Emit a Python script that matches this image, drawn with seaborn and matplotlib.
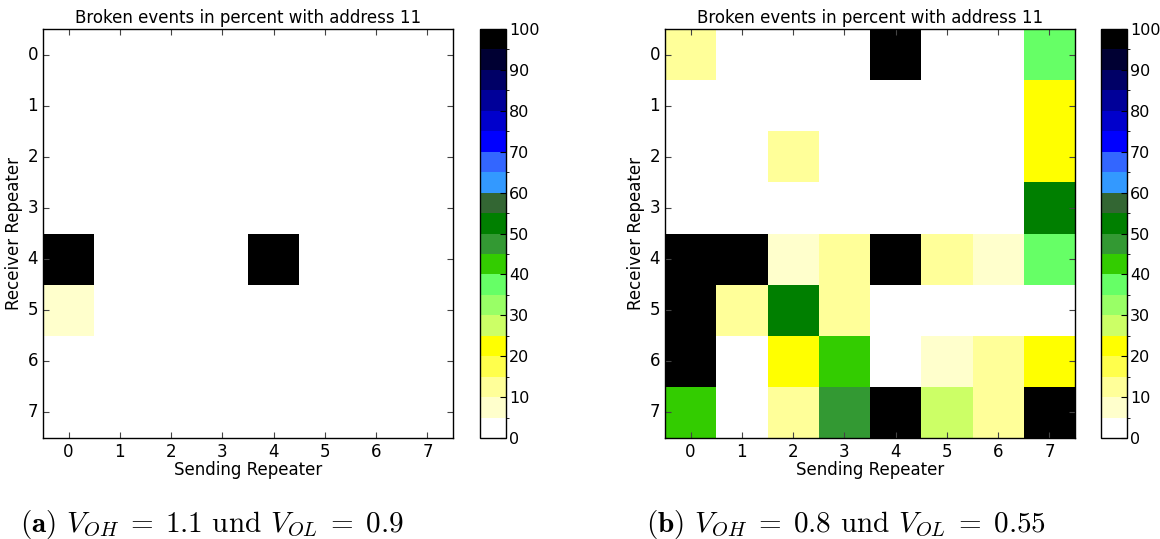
import numpy as np
import matplotlib
matplotlib.use("Agg")
import matplotlib.pyplot as plt
from matplotlib.colors import ListedColormap, BoundaryNorm
import seaborn as sns

# -----------------------------
# Data: broken events in percent (rows = receiver, cols = sender)
# -----------------------------
repeaters = [0, 1, 2, 3, 4, 5, 6, 7]

broken_a = [
    [0, 0, 0, 0, 0, 0, 0, 0],
    [0, 0, 0, 0, 0, 0, 0, 0],
    [0, 0, 0, 0, 0, 0, 0, 0],
    [0, 0, 0, 0, 0, 0, 0, 0],
    [100, 0, 0, 1, 100, 0, 0, 0],
    [8, 0, 0, 0, 1, 0, 0, 0],
    [0, 0, 0, 0, 0, 0, 0, 0],
    [0, 0, 0, 0, 0, 0, 0, 0],
]

broken_b = [
    [12, 0, 0, 1, 100, 0, 0, 37],
    [0, 0, 0, 0, 1, 0, 1, 22],
    [0, 0, 12, 0, 0, 0, 1, 22],
    [0, 0, 0, 0, 0, 0, 0, 52],
    [100, 100, 8, 12, 100, 12, 8, 37],
    [100, 12, 52, 12, 1, 1, 1, 1],
    [100, 1, 22, 42, 0, 8, 12, 22],
    [42, 1, 12, 47, 100, 27, 12, 100],
]

captions = [r"$\mathbf{(a)}$ $V_{OH}\;=\;1.1$ und $V_{OL}\;=\;0.9$",
            r"$\mathbf{(b)}$ $V_{OH}\;=\;0.8$ und $V_{OL}\;=\;0.55$"]

level_colors = ['#ffffff', '#ffffcc', '#ffff99', '#ffff4c', '#ffff00',
                '#ccff66', '#99ff66', '#66ff66', '#33cc00', '#339933',
                '#007f00', '#336633', '#3399ff', '#3366ff', '#0000ff',
                '#0000cc', '#000099', '#000066', '#000033', '#000000']

# -----------------------------
# Plot
# -----------------------------
plt.rcParams['mathtext.fontset'] = 'cm'

cmap = ListedColormap(level_colors)
norm = BoundaryNorm(np.arange(0, 101, 5), cmap.N)

W, H = 1160, 539
fig = plt.figure(figsize=(W / 100, H / 100), dpi=100)

panels = [(broken_a, 43, 480), (broken_b, 665, 1101)]
for (data, ax_x, cb_x), cap, cap_x in zip(panels, captions, [20, 646]):
    ax = fig.add_axes([ax_x / W, 1 - 438 / H, 410 / W, 409 / H])
    cax = fig.add_axes([cb_x / W, 1 - 438 / H, 26 / W, 409 / H])
    df = np.array(data)
    sns.heatmap(df, ax=ax, cbar_ax=cax, cmap=cmap, norm=norm,
                xticklabels=repeaters, yticklabels=repeaters,
                cbar_kws={'ticks': range(0, 101, 10)})
    for s in ax.spines.values():
        s.set_visible(True)
        s.set_color('black')
        s.set_linewidth(1.0)
    ax.tick_params(direction='in', top=True, right=True, length=4,
                   labelsize=12, color='#444444')
    ax.set_yticklabels(repeaters, rotation=0)
    ax.set_xticklabels(repeaters, rotation=0)
    ax.set_title('Broken events in percent with address 11', fontsize=12, pad=4)
    ax.set_xlabel('Sending Repeater', fontsize=12, labelpad=0)
    ax.set_ylabel('Receiver Repeater', fontsize=12, labelpad=3)

    cb = ax.collections[0].colorbar
    cb.outline.set_visible(True)
    cb.outline.set_linewidth(1.0)
    cb.outline.set_edgecolor('black')
    cax.tick_params(labelsize=11.5, length=4, direction='in', pad=2)

    fig.text(cap_x / W, 1 - 532 / H, cap, fontsize=21, family='cmr10',
             va='baseline', ha='left')

plt.savefig('out.png', dpi=100)
